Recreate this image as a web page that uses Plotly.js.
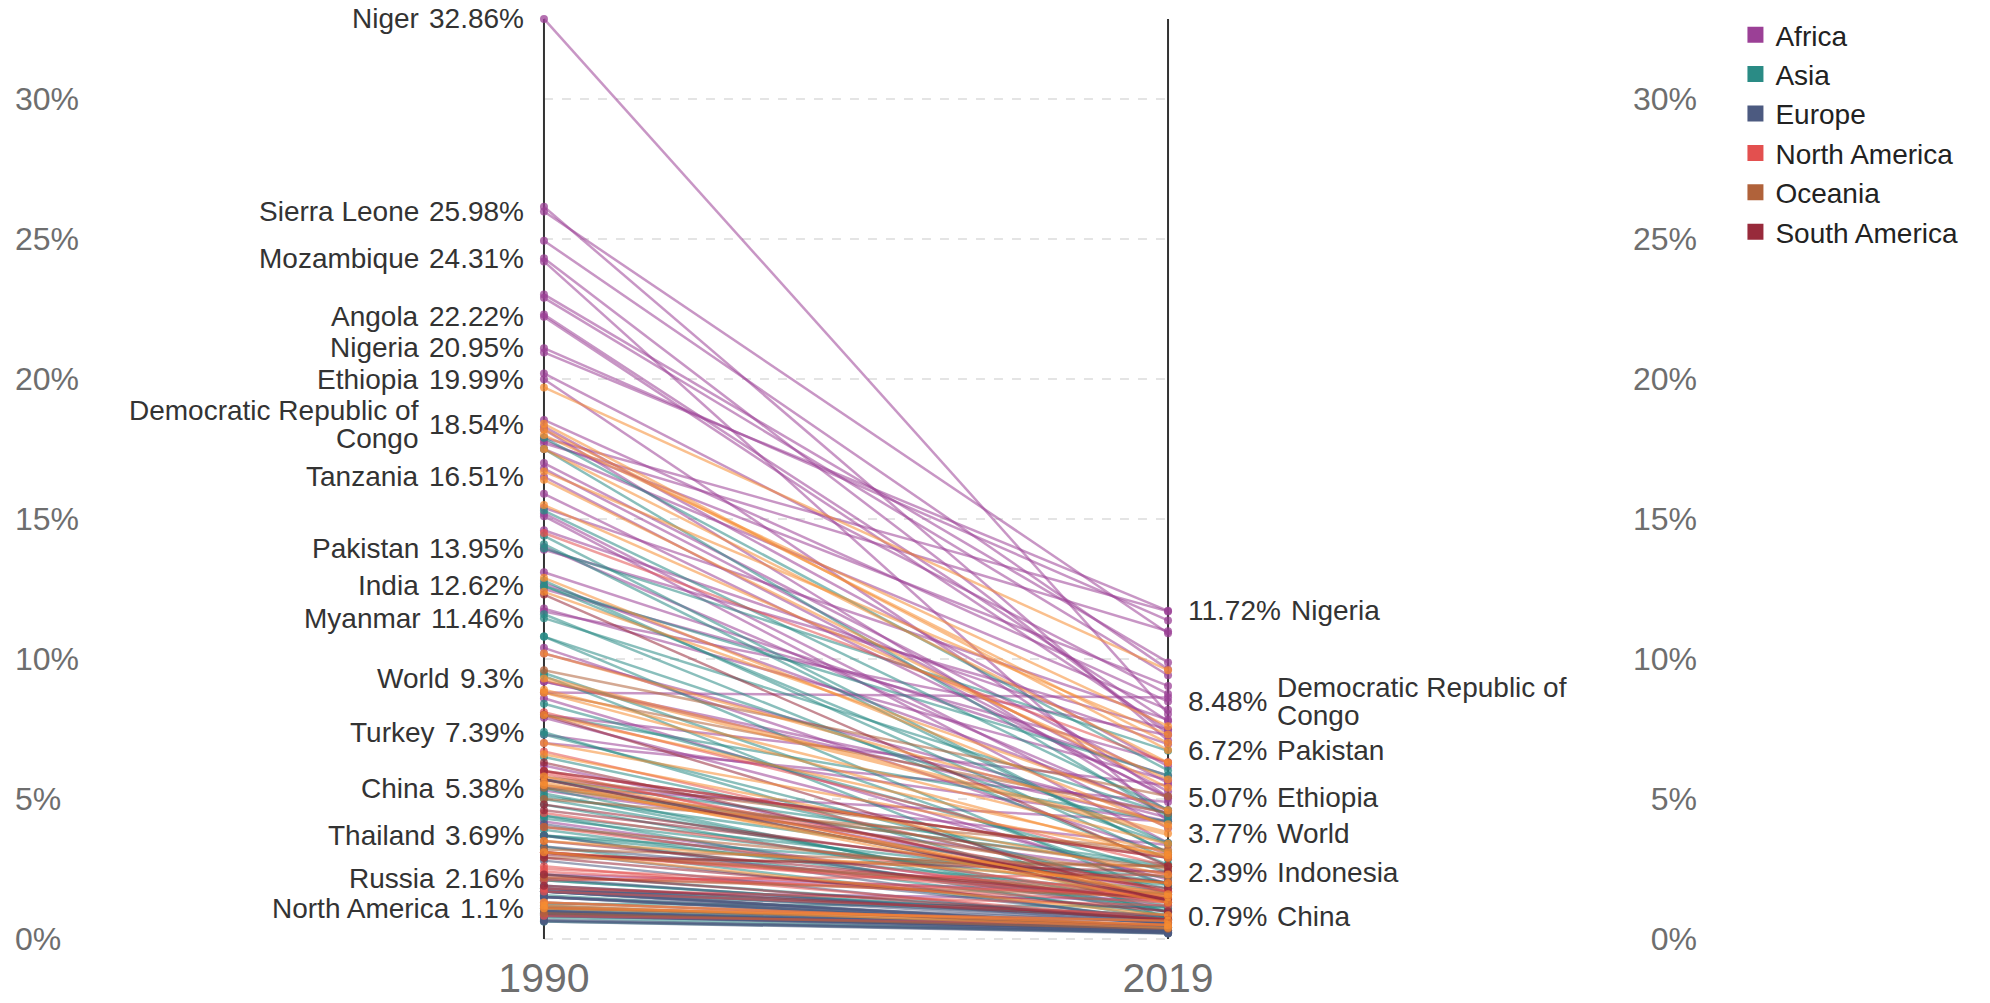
<!DOCTYPE html>
<html>
<head>
<meta charset="utf-8">
<script src="https://cdn.plot.ly/plotly-3.0.1.min.js"></script>
<style>
  html, body { margin: 0; padding: 0; background: #fff; }
  #chart { width: 1990px; height: 1003px; }
</style>
</head>
<body>
<div id="chart"></div>
<script>
// ---------------- DATA (child mortality, % of children dying before age 5) ----------------
const years = [1990, 2019];

const africaNames = ["Niger","Liberia","Sierra Leone","South Sudan","Mozambique","Malawi","Guinea","Mali","Angola","Guinea-Bissau","Chad","Nigeria","Burkina Faso","Ethiopia","Zambia","Uganda","Democratic Republic of Congo","Somalia","Benin","Central African Republic","Equatorial Guinea","Burundi","Gambia","Tanzania","Madagascar","Cote d'Ivoire","Eritrea","Rwanda","Togo","Senegal","Cameroon","Sudan","Ghana","Comoros","Djibouti","Mauritania","Sao Tome and Principe","Kenya","Congo","Gabon","Lesotho","Egypt","Zimbabwe","Morocco","Namibia","Eswatini","Cape Verde","Tunisia","South Africa","Botswana","Algeria","Libya","Mauritius","Seychelles"];
const africa1990 = [32.86,26.15,25.98,24.94,24.31,24.2,23.02,22.9,22.22,22.3,21.1,20.95,20.2,19.99,18.3,18.2,18.54,17.9,17.8,17.7,17.5,17.0,16.8,16.51,15.9,15.4,15.2,15.1,14.6,14.0,13.9,13.1,12.7,12.5,11.8,11.7,10.4,10.2,9.2,9.2,8.8,8.6,8.0,7.9,7.3,7.0,6.2,5.7,5.7,5.4,5.3,4.2,2.3,1.7];
const africa2019 = [8.04,7.09,10.92,9.63,7.32,4.19,9.88,9.42,7.47,7.78,11.38,11.72,8.75,5.07,6.17,4.58,8.48,11.7,9.04,10.99,8.19,5.58,5.27,5.03,5.08,7.83,3.96,3.43,6.96,4.47,7.48,5.83,4.6,6.31,5.67,7.28,3.03,4.33,4.5,4.2,8.63,1.98,5.49,2.12,4.19,4.89,1.45,1.67,3.36,4.2,2.33,1.14,1.66,1.4];

const asiaNames = ["Afghanistan","Timor","Laos","Bangladesh","Nepal","Pakistan","Bhutan","India","Yemen","Cambodia","Myanmar","Tajikistan","Mongolia","Azerbaijan","Maldives","Indonesia","Turkmenistan","Turkey","Uzbekistan","Kyrgyzstan","Philippines","Iran","Iraq","China","Kazakhstan","Vietnam","Armenia","Georgia","Saudi Arabia","Palestine","North Korea","Oman","Syria","Thailand","Jordan","Lebanon","Bahrain","Sri Lanka","Qatar","Kuwait","United Arab Emirates","Malaysia","South Korea","Brunei","Israel","Cyprus","Singapore","Japan"];
const asia1990 = [17.9,17.5,15.3,14.4,14.1,13.95,12.8,12.62,12.6,11.6,11.46,10.8,10.8,9.5,9.4,8.4,8.0,7.39,7.3,6.5,5.7,5.7,5.4,5.38,5.2,5.1,5.0,4.8,4.4,4.4,4.3,3.9,3.7,3.69,3.7,3.3,2.3,2.1,2.1,1.8,1.7,1.7,1.56,1.26,1.16,1.1,0.77,0.63];
const asia2019 = [6.02,4.37,4.61,3.08,3.08,6.72,2.85,3.43,5.84,2.66,4.47,3.4,1.55,1.92,0.72,2.39,4.2,0.96,1.67,1.8,2.64,1.39,2.57,0.79,0.99,2.02,1.19,0.96,0.69,1.93,1.7,1.1,2.22,0.87,1.6,0.68,0.73,0.7,0.67,0.83,0.76,0.86,0.32,1.15,0.36,0.25,0.21,0.25];

const europeNames = ["Albania","North Macedonia","Moldova","Romania","Serbia","Russia","Ukraine","Bulgaria","Bosnia and Herzegovina","Estonia","Latvia","Poland","Hungary","Montenegro","Belarus","Lithuania","Slovakia","Portugal","Croatia","Czechia","Malta","Belgium","Slovenia","Greece","Italy","Austria","United Kingdom","Ireland","Spain","France","Denmark","Luxembourg","Norway","Germany","Netherlands","Switzerland","Sweden","Finland","Iceland"];
const europe1990 = [4.1,3.7,3.3,3.1,2.8,2.16,1.9,1.8,1.8,1.8,1.7,1.7,1.7,1.7,1.5,1.5,1.5,1.5,1.3,1.2,1.1,1.0,1.0,1.0,1.0,0.95,0.93,0.92,0.9,0.9,0.88,0.88,0.87,0.85,0.82,0.82,0.68,0.66,0.63];
const europe2019 = [0.97,0.6,1.4,0.7,0.54,0.54,0.8,0.66,0.56,0.24,0.4,0.44,0.4,0.24,0.3,0.4,0.59,0.36,0.47,0.3,0.64,0.42,0.21,0.4,0.29,0.36,0.43,0.33,0.31,0.44,0.42,0.25,0.24,0.37,0.4,0.41,0.26,0.22,0.2];

const northAmericaNames = ["Haiti","Guatemala","Nicaragua","El Salvador","Dominican Republic","Honduras","Mexico","Belize","Panama","Jamaica","Trinidad and Tobago","Antigua and Barbuda","Saint Vincent and the Grenadines","Bahamas","Saint Lucia","Grenada","Barbados","Costa Rica","Cuba","United States","Canada"];
const northAmerica1990 = [14.5,8.1,6.7,6.0,6.0,5.9,4.5,4.0,3.1,3.1,3.1,2.6,2.5,2.4,2.1,2.2,1.8,1.7,1.3,1.12,0.83];
const northAmerica2019 = [6.3,2.6,1.7,1.3,2.9,1.7,1.4,1.3,1.5,1.4,1.7,0.7,1.5,1.3,2.3,1.6,1.2,0.86,0.5,0.65,0.5];

const southAmericaNames = ["Bolivia","Peru","Brazil","Guyana","Ecuador","Suriname","Paraguay","Colombia","Venezuela","Argentina","Uruguay","Chile"];
const southAmerica1990 = [12.3,8.0,6.3,6.0,5.7,4.8,4.6,3.5,3.0,2.9,2.3,1.9];
const southAmerica2019 = [2.6,1.3,1.4,2.9,1.4,1.8,2.0,1.4,2.4,0.99,0.68,0.71];

const oceaniaNames = ["Kiribati","Papua New Guinea","Nauru","Micronesia","Tuvalu","Marshall Islands","Solomon Islands","Vanuatu","Samoa","Fiji","Tonga","New Zealand","Australia"];
const oceania1990 = [9.6,8.8,5.8,5.5,5.4,5.0,4.0,3.2,3.1,2.9,2.2,1.1,0.92];
const oceania2019 = [5.1,4.5,3.0,2.5,2.2,3.2,2.0,2.6,1.6,2.6,1.5,0.5,0.37];

const regionNames = ["Western and Central Africa","Low income","Heavily indebted poor countries","Sub-Saharan Africa","Least developed countries","Fragile and conflict affected","Eastern and Southern Africa","IDA total","South Asia","Lower middle income","Low & middle income","World","Middle income","Asia","Arab World","Small states","Middle East & North Africa","East Asia & Pacific","Upper middle income","Latin America & Caribbean","Oceania","Europe & Central Asia","High income","European Union","North America"];
const region1990 = [19.7,18.4,18.2,18.0,17.5,16.7,16.4,15.5,12.9,12.4,10.2,9.3,8.9,8.8,8.0,7.0,6.6,5.8,5.6,5.5,3.5,3.1,1.3,1.2,1.1];
const region2019 = [9.6,6.75,7.0,7.6,6.3,7.3,5.4,5.7,4.0,4.6,4.1,3.77,3.4,2.9,3.1,3.0,2.3,1.5,1.3,1.6,2.0,0.85,0.5,0.4,0.65];

const leftLabels = ["Niger","Sierra Leone","Mozambique","Angola","Nigeria","Ethiopia","Democratic Republic of Congo","Tanzania","Pakistan","India","Myanmar","World","Turkey","China","Thailand","Russia","North America"];
const rightLabels = ["Nigeria","Democratic Republic of Congo","Pakistan","Ethiopia","World","Indonesia","China"];
const yTicks = [0,5,10,15,20,25,30];

// ---------------- STYLE ----------------
const FONT = 'Liberation Sans, Arial, Helvetica, sans-serif';
const groups = [
  {key:'Africa', names:africaNames, a:africa1990, b:africa2019, rgb:[155,64,150]},
  {key:'Asia', names:asiaNames, a:asia1990, b:asia2019, rgb:[42,139,133]},
  {key:'Europe', names:europeNames, a:europe1990, b:europe2019, rgb:[76,90,128]},
  {key:'North America', names:northAmericaNames, a:northAmerica1990, b:northAmerica2019, rgb:[227,80,79]},
  {key:'Oceania', names:oceaniaNames, a:oceania1990, b:oceania2019, rgb:[176,98,58]},
  {key:'South America', names:southAmericaNames, a:southAmerica1990, b:southAmerica2019, rgb:[152,42,59]},
  {key:'Regions', names:regionNames, a:region1990, b:region2019, rgb:[245,140,50]}
];
const rgba = (c, a) => `rgba(${c[0]},${c[1]},${c[2]},${a})`;

const traces = [];
const lookup = {};
let maxVal = 0;
groups.forEach(g => {
  g.names.forEach((n, i) => {
    if (!(n in lookup) || g.key === 'Regions') lookup[n] = {a: g.a[i], b: g.b[i]};
    maxVal = Math.max(maxVal, g.a[i], g.b[i]);
    traces.push({
      type: 'scatter', mode: 'lines+markers',
      x: years, y: [g.a[i], g.b[i]],
      name: n, legendgroup: g.key, showlegend: false,
      line: {color: rgba(g.rgb, 0.55), width: n === 'World' ? 5 : 2.5},
      marker: {color: rgba(g.rgb, 0.75), size: 8},
      hovertemplate: n + ': %{y:.2f}%<extra></extra>'
    });
  });
});
// legend entries
groups.slice(0, 6).forEach(g => {
  traces.push({
    type: 'scatter', mode: 'markers', x: [null], y: [null],
    name: g.key, legendgroup: g.key, showlegend: true,
    marker: {symbol: 'square', size: 16, color: rgba(g.rgb, 1)}
  });
});
// dummy trace for the right-hand axis
traces.push({type:'scatter', mode:'markers', x:[null], y:[null], yaxis:'y2', showlegend:false, hoverinfo:'skip'});

// ---------------- LABELS ----------------
const LFS = 28;
const canvas = document.createElement('canvas');
const ctx = canvas.getContext('2d');
function tw(t, fs) { ctx.font = fs + 'px "Liberation Sans"'; return ctx.measureText(t).width; }
const fmt = v => (+v.toFixed(2)) + '%';
const splitName = n => n === 'Democratic Republic of Congo' ? ['Democratic Republic of', 'Congo'] : [n];
const leftNudge = {'Nigeria': 5, 'Democratic Republic of Congo': -5};   // small pixel nudges to keep labels apart
const labelFont = {family: FONT, size: LFS, color: '#333333'};
const annotations = [];
function addLabel(yr, v, n, side, nudge) {
  const t = fmt(v);
  const sgn = side === 'left' ? -1 : 1;
  const anchor = side === 'left' ? 'right' : 'left';
  annotations.push({x: yr, y: v, xref: 'x', yref: 'y', text: t, showarrow: false, borderpad: 0, borderwidth: 0,
    xanchor: anchor, yanchor: 'middle', xshift: sgn * 20, yshift: nudge, font: labelFont});
  const lines = splitName(n);
  const step = 28;
  lines.forEach((ln, k) => {
    const off = ((lines.length - 1) / 2 - k) * step + nudge;
    annotations.push({x: yr, y: v, xref: 'x', yref: 'y', text: ln, showarrow: false, borderpad: 0, borderwidth: 0,
      xanchor: anchor, yanchor: 'middle', yshift: off, xshift: sgn * (20 + tw(t, LFS) + 10), font: labelFont});
  });
}
leftLabels.forEach(n => addLabel(1990, lookup[n].a, n, 'left', leftNudge[n] || 0));
rightLabels.forEach(n => addLabel(2019, lookup[n].b, n, 'right', 0));

// ---------------- SHAPES (grid + year axes) ----------------
const shapes = [];
yTicks.forEach(v => shapes.push({type: 'line', xref: 'x', yref: 'y', x0: years[0], x1: years[1], y0: v, y1: v,
  layer: 'below', line: {color: '#dcdcdc', width: 1.5, dash: 'dash'}}));
years.forEach(yr => shapes.push({type: 'line', xref: 'x', yref: 'y', x0: yr, x1: yr, y0: 0, y1: maxVal,
  layer: 'below', line: {color: '#333333', width: 2}}));

const yRange = [-2.285, 33.179];
const tickFont = {family: FONT, size: 32, color: '#6e6e6e'};
const layout = {
  width: 1990, height: 1003,
  margin: {l: 12, r: 290, t: 10, b: 0},
  paper_bgcolor: '#ffffff', plot_bgcolor: '#ffffff',
  font: {family: FONT},
  showlegend: true,
  legend: {x: 1.021, y: 1, xanchor: 'left', yanchor: 'top', font: {family: FONT, size: 28, color: '#222222'},
           bgcolor: 'rgba(0,0,0,0)', tracegroupgap: 0, itemwidth: 30},
  xaxis: {range: [1965.28, 2043.72], tickvals: years, ticktext: years.map(String), showgrid: false, zeroline: false,
          showline: false, ticks: '', ticklabelposition: 'inside', tickfont: {family: FONT, size: 41, color: '#6e6e6e'}},
  yaxis: {range: yRange, autorange: false, tickvals: yTicks, ticktext: yTicks.map(v => v + '%'), showgrid: false,
          zeroline: false, showline: false, ticks: '', ticklabelposition: 'inside', tickfont: tickFont},
  yaxis2: {range: yRange, autorange: false, overlaying: 'y', side: 'right', tickvals: yTicks, ticktext: yTicks.map(v => v + '%'),
           showgrid: false, zeroline: false, showline: false, ticks: '', ticklabelposition: 'inside', tickfont: tickFont},
  shapes: shapes,
  annotations: annotations
};
Plotly.newPlot('chart', traces, layout, {displayModeBar: false, staticPlot: true});
</script>
</body>
</html>
